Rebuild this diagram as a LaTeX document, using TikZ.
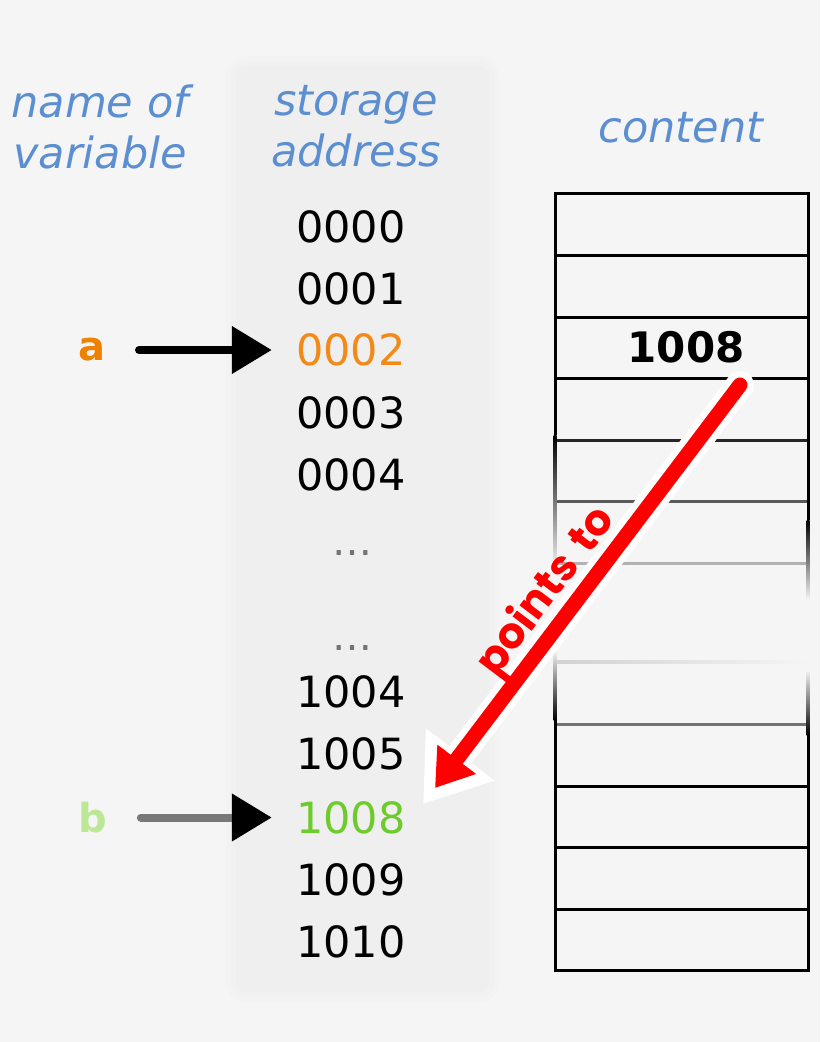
\documentclass[tikz,border=0pt]{standalone}
\usepackage{fontspec}
\setmainfont{DejaVu Sans}
\newfontfamily\ptrfont{Poppins}
\usetikzlibrary{arrows.meta}
\definecolor{bg}{HTML}{F5F5F5}
\definecolor{headblue}{HTML}{5B8FD1}
\definecolor{aorange}{HTML}{F08000}
\definecolor{addrorange}{HTML}{F28A1A}
\definecolor{blight}{HTML}{BCE896}
\definecolor{addrgreen}{HTML}{6DCB2B}
\begin{document}
\begin{tikzpicture}[x=1pt,y=-1pt,
  head/.style={headblue,font=\fontsize{43}{51}\selectfont\itshape,align=center},
  addr/.style={font=\fontsize{43}{50}\selectfont},
  gapdots/.style={black!55,font=\fontsize{40}{48}\selectfont,anchor=base},
  varname/.style={font=\fontsize{40}{48}\selectfont\bfseries},
  varptr/.style={line width=8,line cap=round,-{Triangle[length=40pt,width=46pt,color=black]}}]
\fill[bg](0,0)rectangle(820,1042);
\useasboundingbox(0,0)rectangle(820,1042);
% address column
\fill[rounded corners=20,color={rgb,255:red,243;green,243;blue,243}](226,56)rectangle(499,1002);
\fill[rounded corners=14,color={rgb,255:red,241;green,241;blue,241}](231,61)rectangle(494,997);
\fill[rounded corners=10,color={rgb,255:red,239;green,239;blue,239}](236,66)rectangle(489,992);
% headings
\node[head](varhead)at(100,126.5){name of\\variable};
\node[head](addrhead)at(356,126){storage\\address};
\node[head](conthead)at(681,128){content};
% addresses
\foreach \y/\t in {227/0000,289/0001,413/0003,475/0004,692/1004,754/1005,880/1009,942/1010}
  \node[addr](m\t)at(351,\y){\t};
\node[addr,addrorange](m0002)at(351,350){0002};
\node[addr,addrgreen](m1008)at(351,817.5){1008};
\node[gapdots](gapa)at(352,555){…};
\node[gapdots](gapb)at(352,650){…};
% variables
\node[varname,aorange](a)at(92,350){a};
\node[varname,blight](b)at(93,817.5){b};
\draw[varptr,shorten <=30,shorten >=21](a)--(m0002);
\draw[varptr,black!53,shorten <=30,shorten >=21](b)--(m1008);
% content cells
\foreach \y/\c in {193/100,255/100,317/100,378/100,440/85,501/65,563/30,724/55,786/100,847/100,909/100,970/100}
  \draw[line width=3,black!\c](555,\y)--(808,\y);
\shade[left color=black!18,right color=bg](555,660.5)rectangle(808,663.5);
\fill(553.5,191.5)rectangle(556.5,435);
\shade[top color=black,bottom color=bg](553.5,435)rectangle(556.5,570);
\shade[top color=bg,bottom color=black](553.5,650)rectangle(556.5,720);
\fill(553.5,720)rectangle(556.5,971.5);
\fill(806.5,191.5)rectangle(809.5,520);
\shade[top color=black,bottom color=bg](806.5,520)rectangle(809.5,600);
\shade[top color=bg,bottom color=black](806.5,670)rectangle(809.5,735);
\fill(806.5,735)rectangle(809.5,971.5);
\node[font=\fontsize{42}{50}\selectfont\bfseries](cell)at(686,347){1008};
% pointer
\coordinate(ptrfrom)at(740,385);
\coordinate(ptrto)at(435,788);
\coordinate(ptrhalo)at(423,804);
\draw[white,line width=28,line cap=round,-{Triangle[length=62pt,width=82pt]}](ptrfrom)--(ptrhalo);
\draw[red,line width=15,line cap=round,-{Triangle[length=36pt,width=46pt]}](ptrfrom)--(ptrto);
\node[red,font=\fontsize{43}{48}\ptrfont\bfseries,rotate=52.9](ptrtext)at(547,592){points\hspace{0.12em} to};
\end{tikzpicture}
\end{document}
